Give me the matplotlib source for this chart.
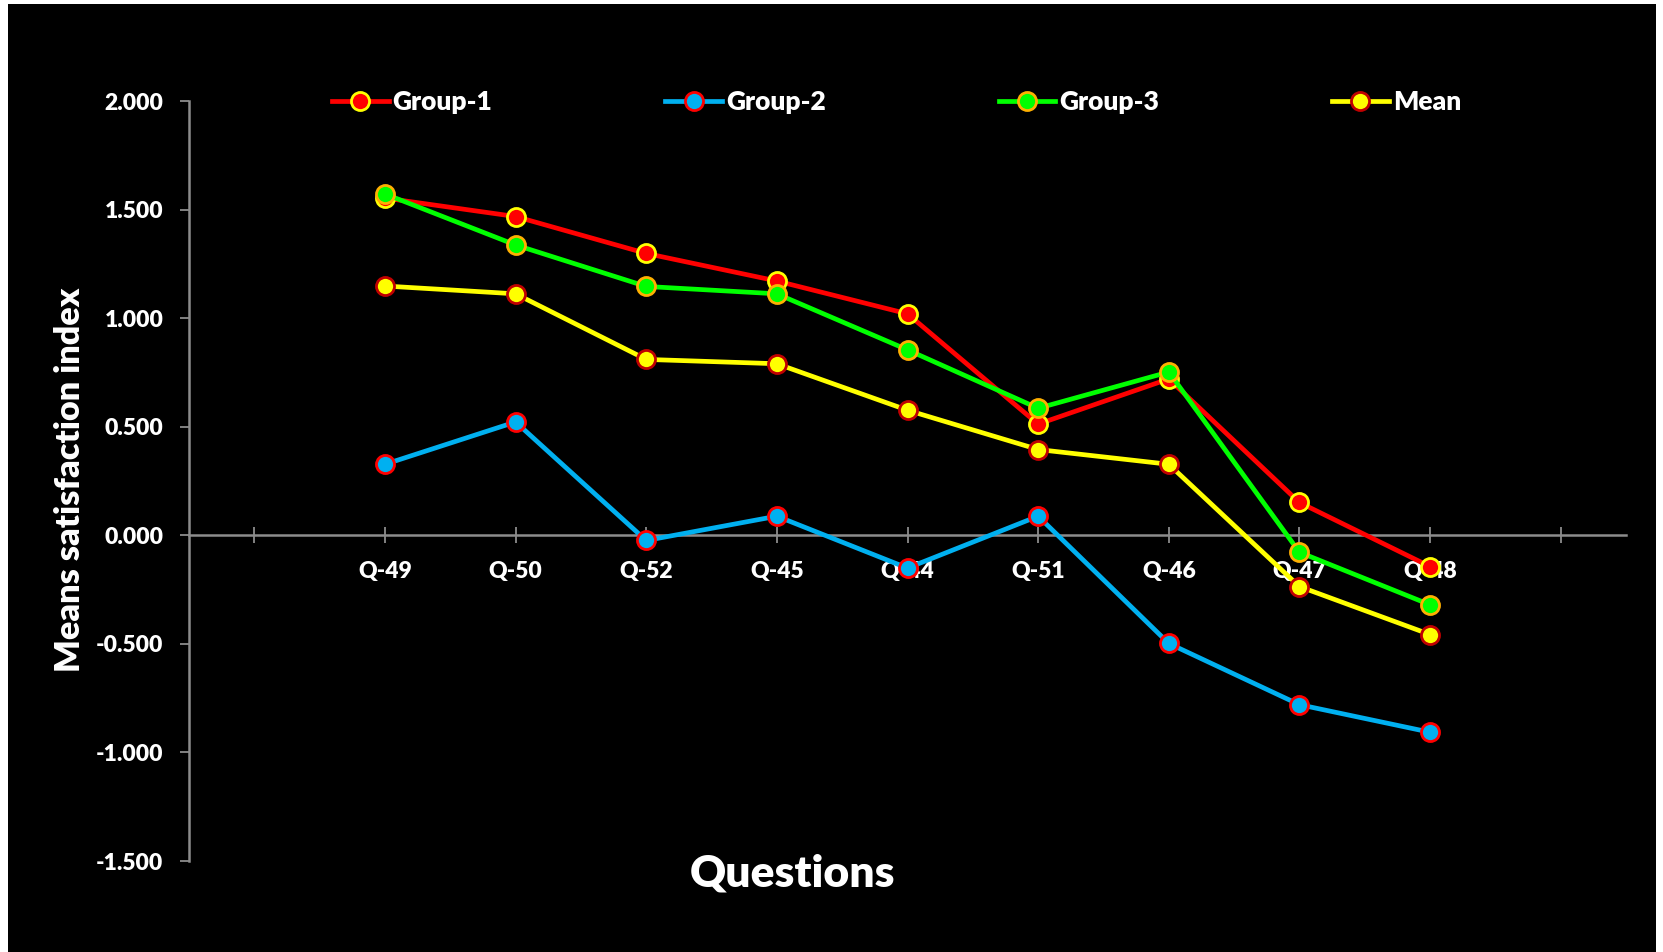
import matplotlib
matplotlib.use("Agg")
import matplotlib.pyplot as plt
from matplotlib.patches import Rectangle

# ---- data ----
categories = ["", "Q-49", "Q-50", "Q-52", "Q-45", "Q-44", "Q-51", "Q-46", "Q-47", "Q-48", ""]
questions = ["Q-49", "Q-50", "Q-52", "Q-45", "Q-44", "Q-51", "Q-46", "Q-47", "Q-48"]
group1 = [1.553, 1.468, 1.298, 1.171, 1.020, 0.512, 0.720, 0.151, -0.144]
group2 = [0.327, 0.522, -0.024, 0.088, -0.151, 0.088, -0.498, -0.780, -0.907]
group3 = [1.572, 1.337, 1.146, 1.112, 0.854, 0.585, 0.752, -0.078, -0.320]
mean = [1.148, 1.112, 0.810, 0.790, 0.576, 0.395, 0.327, -0.236, -0.457]
series_names = ["Group-1", "Group-2", "Group-3", "Mean"]
y_ticks = [-1.5, -1.0, -0.5, 0.0, 0.5, 1.0, 1.5, 2.0]

FONT = "Lato"
WEIGHT = "heavy"
W, H = 1663, 952
fig = plt.figure(figsize=(W / 100, H / 100), dpi=100, facecolor="white")
fig.patches.append(Rectangle((8 / W, 0), (1656 - 8) / W, (952 - 4) / H,
                             transform=fig.transFigure, facecolor="black",
                             edgecolor="none", zorder=-10))

ax = fig.add_axes([189 / W, 1 - 861 / H, (1626 - 189) / W, (861 - 101) / H])
ax.set_facecolor("none")

styles = [
    dict(color="#FF0000", mfc="#FF0000", mec="#FFFF00"),
    dict(color="#00B0F0", mfc="#00B0F0", mec="#FF0000"),
    dict(color="#00FF00", mfc="#00FF00", mec="#FFB000"),
    dict(color="#FFFF00", mfc="#FFFF00", mec="#C00000"),
]
xpos = [categories.index(q) for q in questions]
handles = []
for name, vals, st in zip(series_names, [group1, group2, group3, mean], styles):
    ln, = ax.plot(xpos, vals, color=st["color"], lw=3.4, marker="o", ms=13,
                  mfc=st["mfc"], mec=st["mec"], mew=2.0, label=name,
                  solid_joinstyle="round", zorder=2)
    handles.append(ln)

ax.set_xlim(-0.5, len(categories) - 0.5)
ax.set_ylim(-1.5, 2.0)

gray = "#8C8C8C"
for s in ["top", "right"]:
    ax.spines[s].set_visible(False)
ax.spines["left"].set_color(gray)
ax.spines["left"].set_linewidth(1.8)
ax.spines["bottom"].set_position(("data", 0))
ax.spines["bottom"].set_color(gray)
ax.spines["bottom"].set_linewidth(1.8)
ax.spines["bottom"].set_zorder(1)
ax.spines["left"].set_zorder(1)

ax.set_xticks(range(len(categories)))
ax.set_xticklabels(categories)
ax.set_yticks(y_ticks)
ax.set_yticklabels([f"{v:.3f}" for v in y_ticks])

ax.tick_params(axis="y", direction="out", length=6.5, width=1.3, color=gray,
               pad=12, labelsize=16.5, labelcolor="white")
ax.tick_params(axis="x", direction="inout", length=11.5, width=1.3, color=gray,
               pad=12.5, labelsize=16.5, labelcolor="white")
for lab in ax.get_xticklabels() + ax.get_yticklabels():
    lab.set_fontfamily(FONT)
    lab.set_fontweight(WEIGHT)

ax.set_ylabel("Means satisfaction index", fontsize=24.7, fontweight=WEIGHT,
              color="white", family=FONT)
ax.yaxis.set_label_coords(-0.083, 0.501)
ax.yaxis.label.set_verticalalignment("center")
ax.set_xlabel("Questions", fontsize=32, fontweight=WEIGHT, color="white",
              family=FONT)
ax.xaxis.set_label_coords(0.42, -0.017)
ax.xaxis.label.set_verticalalignment("center")

leg = fig.legend(handles=handles, loc="center left",
                 bbox_to_anchor=(332 / W, 1 - 102 / H), ncol=4,
                 frameon=False, borderpad=0, borderaxespad=0,
                 handlelength=2.15, handletextpad=0.15, columnspacing=6.55,
                 prop=dict(family=FONT, weight=WEIGHT, size=19))
for t in leg.get_texts():
    t.set_color("white")

fig.savefig("out.png", dpi=100, facecolor=fig.get_facecolor())
